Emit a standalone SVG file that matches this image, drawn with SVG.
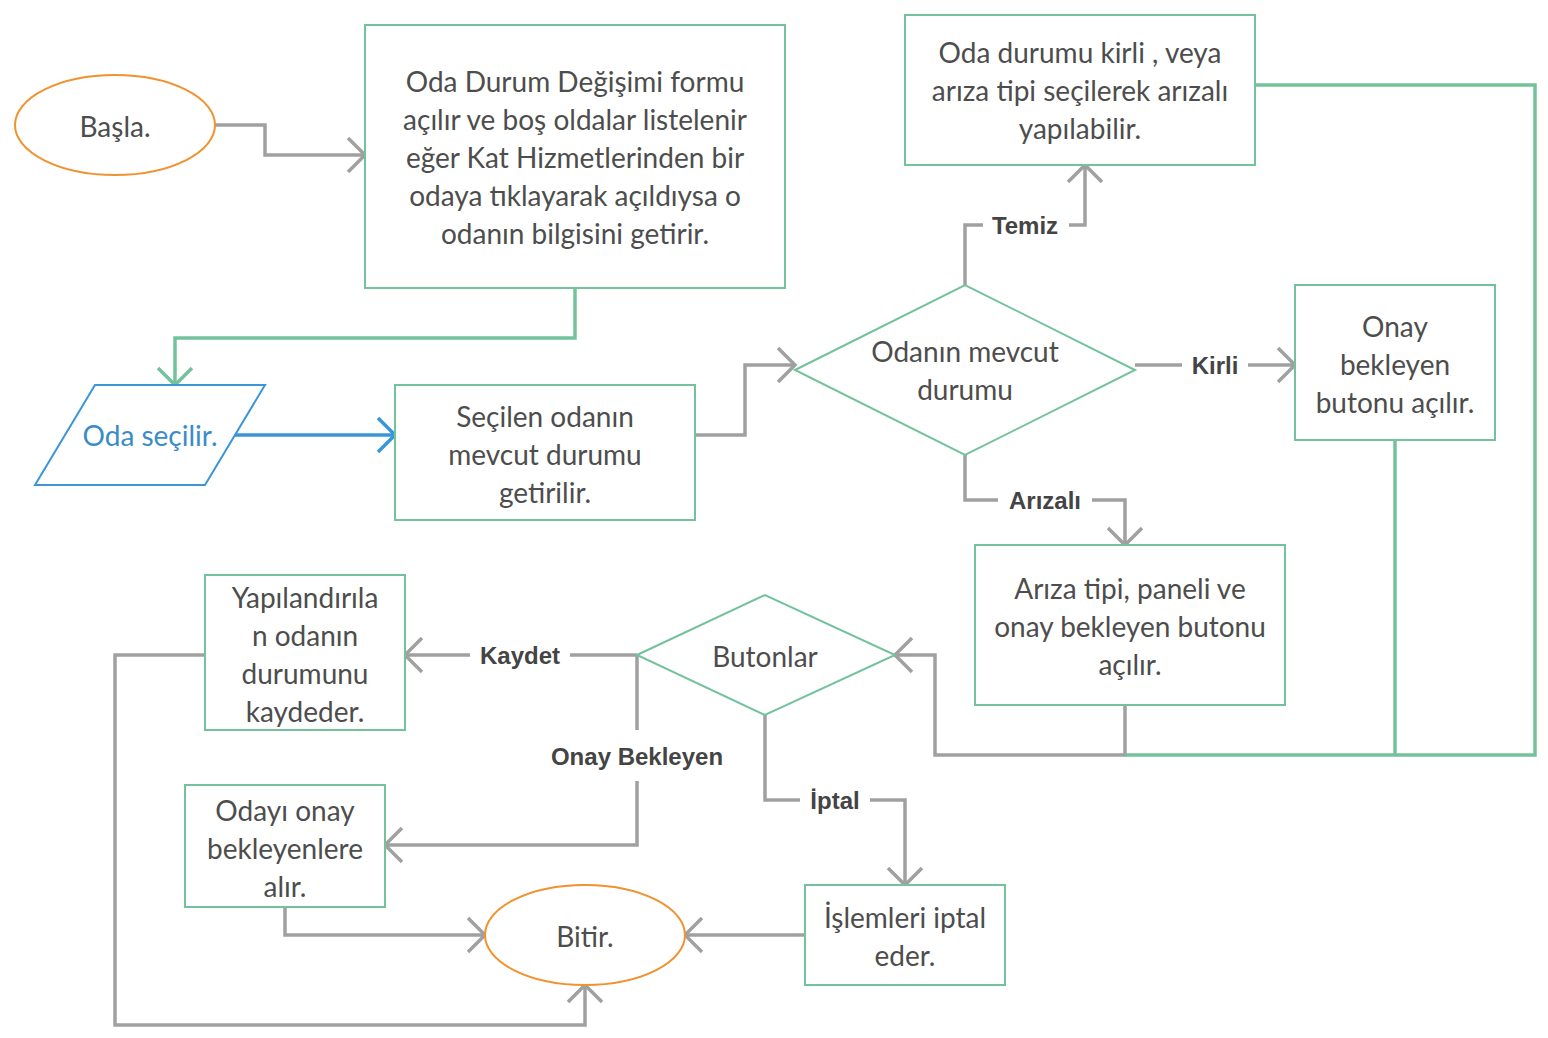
<svg xmlns="http://www.w3.org/2000/svg" width="1548" height="1038" viewBox="0 0 1548 1038">
<defs>
<marker id="ag" markerUnits="userSpaceOnUse" markerWidth="40" markerHeight="40" refX="20" refY="20" orient="auto" overflow="visible">
<path d="M3,3 L20,20 L3,37" fill="none" stroke="#a0a0a0" stroke-width="3.5"/>
</marker>
<marker id="agr" markerUnits="userSpaceOnUse" markerWidth="40" markerHeight="40" refX="20" refY="20" orient="auto" overflow="visible">
<path d="M3,3 L20,20 L3,37" fill="none" stroke="#74c29c" stroke-width="3.5"/>
</marker>
<marker id="ab" markerUnits="userSpaceOnUse" markerWidth="40" markerHeight="40" refX="20" refY="20" orient="auto" overflow="visible">
<path d="M3,3 L20,20 L3,37" fill="none" stroke="#3a96d8" stroke-width="3.5"/>
</marker>
</defs>
<style>
.box{fill:#fff;stroke:#74c29c;stroke-width:2}
.term{fill:#fff;stroke:#f0922e;stroke-width:2}
.t{font-family:Lato,"Liberation Sans",sans-serif;font-size:28px;fill:#4d4d4d;text-anchor:middle;dominant-baseline:central}
.lb{font-family:"Liberation Sans",Arial,sans-serif;font-weight:bold;font-size:24px;fill:#444;text-anchor:middle;dominant-baseline:central}
.c{fill:none;stroke:#a0a0a0;stroke-width:3.5}
.cg{fill:none;stroke:#74c29c;stroke-width:3.5}
.cb{fill:none;stroke:#3a96d8;stroke-width:3.5}
</style>
<rect width="1548" height="1038" fill="#fff"/>
<g id="connectors">
<polyline class="c" points="215,125 265,125 265,155 365,155" marker-end="url(#ag)"/>
<polyline class="cg" points="575,288 575,338 175,338 175,385" marker-end="url(#agr)"/>
<polyline class="cb" points="235,435 395,435" marker-end="url(#ab)"/>
<polyline class="c" points="695,435 745,435 745,365 795,365" marker-end="url(#ag)"/>
<polyline class="c" points="965,285 965,225 983,225"/>
<polyline class="c" points="1069,225 1085,225 1085,165" marker-end="url(#ag)"/>
<polyline class="c" points="1135,365 1182,365"/>
<polyline class="c" points="1248,365 1295,365" marker-end="url(#ag)"/>
<polyline class="c" points="965,455 965,500 998,500"/>
<polyline class="c" points="1092,500 1125,500 1125,545" marker-end="url(#ag)"/>
<polyline class="c" points="1125,705 1125,755 935,755 935,655 895,655" marker-end="url(#ag)"/>
<polyline class="cg" points="1255,85 1535,85 1535,755 1125,755"/>
<polyline class="cg" points="1395,440 1395,755"/>
<polyline class="c" points="637,655 570,655"/>
<polyline class="c" points="470,655 405,655" marker-end="url(#ag)"/>
<polyline class="c" points="637,655 637,730"/>
<polyline class="c" points="637,781 637,845 385,845" marker-end="url(#ag)"/>
<polyline class="c" points="765,715 765,800 800,800"/>
<polyline class="c" points="870,800 905,800 905,885" marker-end="url(#ag)"/>
<polyline class="c" points="285,907 285,935 485,935" marker-end="url(#ag)"/>
<polyline class="c" points="805,935 685,935" marker-end="url(#ag)"/>
<polyline class="c" points="205,655 115,655 115,1025 585,1025 585,985" marker-end="url(#ag)"/>
<text class="lb" x="1025" y="225">Temiz</text>
<text class="lb" x="1215" y="365">Kirli</text>
<text class="lb" x="1045" y="500">Arızalı</text>
<text class="lb" x="520" y="655">Kaydet</text>
<text class="lb" x="637" y="756">Onay Bekleyen</text>
<text class="lb" x="835" y="800">İptal</text>
</g>
<g id="start">
<ellipse class="term" cx="115" cy="125" rx="100" ry="50"/>
<text class="t" x="115" y="126">Başla.</text>
</g>
<g id="form">
<rect class="box" x="365" y="25" width="420" height="263"/>
<text class="t" x="575" y="81">Oda Durum Değişimi formu</text>
<text class="t" x="575" y="119">açılır ve boş oldalar listelenir</text>
<text class="t" x="575" y="157">eğer Kat Hizmetlerinden bir</text>
<text class="t" x="575" y="195">odaya tıklayarak açıldıysa o</text>
<text class="t" x="575" y="233">odanın bilgisini getirir.</text>
</g>
<g id="select">
<polygon points="95,385 265,385 205,485 35,485" fill="#fff" stroke="#3a96d8" stroke-width="2"/>
<text class="t" x="150" y="435" style="fill:#3a8cc8">Oda seçilir.</text>
</g>
<g id="fetch">
<rect class="box" x="395" y="385" width="300" height="135"/>
<text class="t" x="545" y="416">Seçilen odanın</text>
<text class="t" x="545" y="454">mevcut durumu</text>
<text class="t" x="545" y="492">getirilir.</text>
</g>
<g id="state">
<polygon points="795,370 965,285 1135,370 965,455" fill="#fff" stroke="#74c29c" stroke-width="2"/>
<text class="t" x="965" y="351">Odanın mevcut</text>
<text class="t" x="965" y="389">durumu</text>
</g>
<g id="clean">
<rect class="box" x="905" y="15" width="350" height="150"/>
<text class="t" x="1080" y="52">Oda durumu kirli , veya</text>
<text class="t" x="1080" y="90">arıza tipi seçilerek arızalı</text>
<text class="t" x="1080" y="128">yapılabilir.</text>
</g>
<g id="dirty">
<rect class="box" x="1295" y="285" width="200" height="155"/>
<text class="t" x="1395" y="326">Onay</text>
<text class="t" x="1395" y="364">bekleyen</text>
<text class="t" x="1395" y="402">butonu açılır.</text>
</g>
<g id="fault">
<rect class="box" x="975" y="545" width="310" height="160"/>
<text class="t" x="1130" y="588">Arıza tipi, paneli ve</text>
<text class="t" x="1130" y="626">onay bekleyen butonu</text>
<text class="t" x="1130" y="664">açılır.</text>
</g>
<g id="buttons">
<polygon points="637,655 765,595 895,655 765,715" fill="#fff" stroke="#74c29c" stroke-width="2"/>
<text class="t" x="765" y="656">Butonlar</text>
</g>
<g id="save">
<rect class="box" x="205" y="575" width="200" height="155"/>
<text class="t" x="305" y="597">Yapılandırıla</text>
<text class="t" x="305" y="635">n odanın</text>
<text class="t" x="305" y="673">durumunu</text>
<text class="t" x="305" y="711">kaydeder.</text>
</g>
<g id="pending">
<rect class="box" x="185" y="785" width="200" height="122"/>
<text class="t" x="285" y="810">Odayı onay</text>
<text class="t" x="285" y="848">bekleyenlere</text>
<text class="t" x="285" y="886">alır.</text>
</g>
<g id="cancel">
<rect class="box" x="805" y="885" width="200" height="100"/>
<text class="t" x="905" y="917">İşlemleri iptal</text>
<text class="t" x="905" y="955">eder.</text>
</g>
<g id="end">
<ellipse class="term" cx="585" cy="935" rx="100" ry="50"/>
<text class="t" x="585" y="936">Bitir.</text>
</g>
</svg>
